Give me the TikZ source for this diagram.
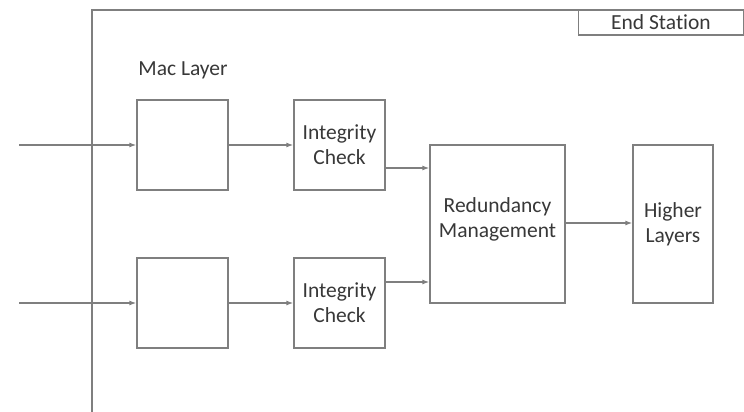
\documentclass[tikz,border=0pt]{standalone}
\usepackage{fontspec}
\setmainfont[Ligatures=NoCommon]{Carlito}
\usetikzlibrary{arrows.meta}
\definecolor{linegray}{HTML}{7F7F7F}
\definecolor{textgray}{HTML}{383838}
\tikzset{
  blk/.style={draw=linegray, line width=1.3pt, fill=white, inner sep=0pt, align=center,
    text=textgray, font=\fontsize{21.5}{25}\selectfont},
  conn/.style={draw=linegray, line width=1.3pt, -{Latex[length=7pt,width=5pt]}},
  frame/.style={draw=linegray, line width=1.3pt},
  lbl/.style={text=textgray, font=\fontsize{21.5}{25}\selectfont, inner sep=0pt}
}
\begin{document}
\begin{tikzpicture}[x=1pt,y=-1pt]
\useasboundingbox (0,0) rectangle (744,412);
% outer frame
\draw[frame] (92,412) -- (92,10) -- (744,10);
\node[blk, minimum width=165pt, minimum height=25pt] (es) at (661,22.5) {End Station};
\node[lbl] (mac) at (183,70) {Mac Layer};
% blocks
\node[blk, minimum width=91pt, minimum height=90pt] (mac1) at (182.5,145) {};
\node[blk, minimum width=91pt, minimum height=90pt] (ic1) at (339.5,145) {Integrity\\Check};
\node[blk, minimum width=91pt, minimum height=90pt] (mac2) at (182.5,303) {};
\node[blk, minimum width=91pt, minimum height=90pt] (ic2) at (339.5,303) {Integrity\\Check};
\node[blk, minimum width=135pt, minimum height=158pt] (rm) at (497.5,224)
  {\raisebox{28pt}{\begin{tabular}{@{}c@{}}Redundancy\\Management\end{tabular}}};
\node[blk, minimum width=80pt, minimum height=158pt] (hl) at (673,224) {Higher\\Layers};
% connectors
\coordinate (in1) at (19,145);
\coordinate (in2) at (19,303);
\draw[conn] (in1) -- (mac1.west);
\draw[conn] (in2) -- (mac2.west);
\draw[conn] (mac1) -- (ic1);
\draw[conn] (mac2) -- (ic2);
\draw[conn] (ic1.east |- 0,168) -- (rm.west |- 0,168);
\draw[conn] (ic2.east |- 0,282) -- (rm.west |- 0,282);
\draw[conn] (rm.east |- 0,223) -- (hl.west |- 0,223);
\end{tikzpicture}
\end{document}
